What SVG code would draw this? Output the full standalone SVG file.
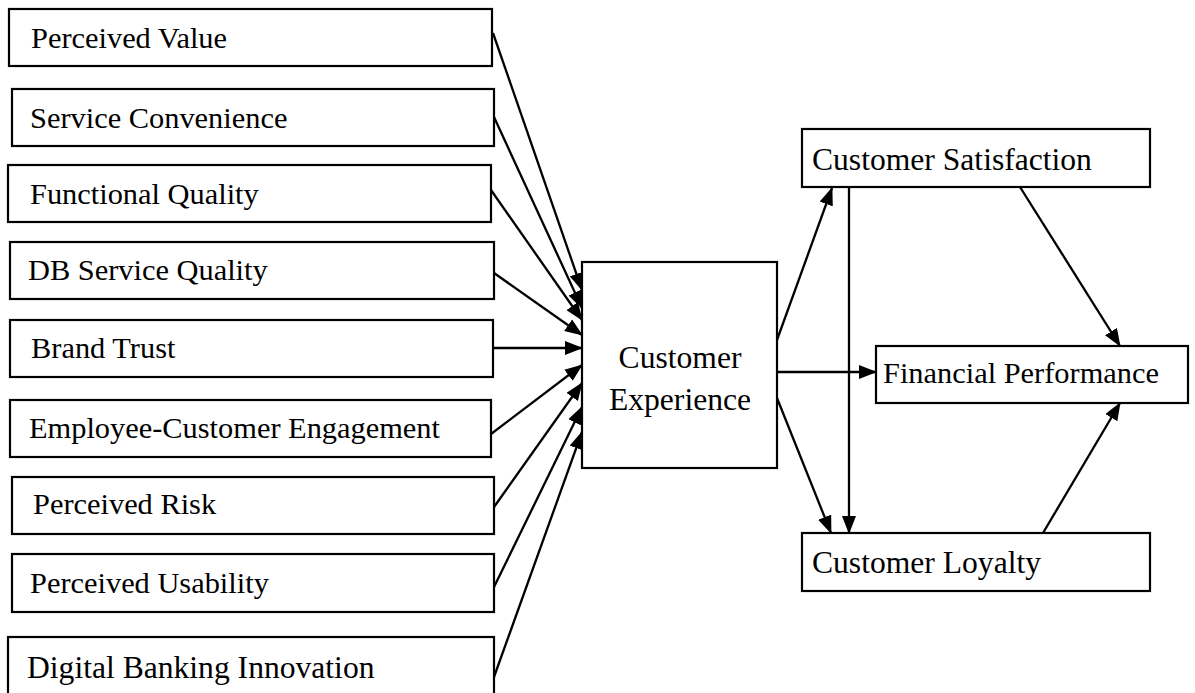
<svg xmlns="http://www.w3.org/2000/svg" width="1195" height="693" viewBox="0 0 1195 693">
<style>
.box{fill:#fff;stroke:#000;stroke-width:2.2}
.t{font-family:"Liberation Serif","Times New Roman",serif;font-size:30.4px;fill:#000}
.tr{font-family:"Liberation Serif","Times New Roman",serif;font-size:31.6px;fill:#000}
.c{stroke:#000;stroke-width:2.3;fill:none;marker-end:url(#ah)}
</style>
<defs>
<marker id="ah" markerUnits="userSpaceOnUse" markerWidth="18" markerHeight="14" refX="17" refY="7" orient="auto">
<path d="M0,0 L18,7 L0,14 z" fill="#000"/>
</marker>
</defs>
<rect width="1195" height="693" fill="#fff"/>
<g id="connectors">
<line class="c" x1="493" y1="33" x2="582" y2="290"/>
<line class="c" x1="494" y1="117" x2="582" y2="308"/>
<line class="c" x1="491" y1="190" x2="582" y2="320"/>
<line class="c" x1="494" y1="273" x2="582" y2="335"/>
<line class="c" x1="493" y1="348" x2="582" y2="348"/>
<line class="c" x1="491" y1="434" x2="582" y2="365"/>
<line class="c" x1="494" y1="507" x2="582" y2="383"/>
<line class="c" x1="494" y1="587" x2="582" y2="407"/>
<line class="c" x1="494" y1="677" x2="582" y2="432"/>
<line class="c" x1="777" y1="340" x2="832" y2="188"/>
<line class="c" x1="777" y1="372" x2="876" y2="372"/>
<line class="c" x1="777" y1="398" x2="831" y2="533"/>
<line class="c" x1="849" y1="187" x2="849" y2="533"/>
<line class="c" x1="1020" y1="187" x2="1120" y2="346"/>
<line class="c" x1="1043" y1="533" x2="1120" y2="403"/>
</g>
<g id="perceived-value"><rect class="box" x="9" y="9" width="483" height="57"/><text class="t" x="31" y="48">Perceived Value</text></g>
<g id="service-convenience"><rect class="box" x="12" y="89" width="482" height="57"/><text class="t" x="30" y="128">Service Convenience</text></g>
<g id="functional-quality"><rect class="box" x="8" y="165" width="483" height="57"/><text class="t" x="30" y="204">Functional Quality</text></g>
<g id="db-service-quality"><rect class="box" x="10" y="242" width="484" height="57"/><text class="t" x="28" y="280">DB Service Quality</text></g>
<g id="brand-trust"><rect class="box" x="10" y="320" width="483" height="57"/><text class="t" x="31" y="358">Brand Trust</text></g>
<g id="employee-customer-engagement"><rect class="box" x="10" y="400" width="481" height="57"/><text class="t" x="29" y="438">Employee-Customer Engagement</text></g>
<g id="perceived-risk"><rect class="box" x="12" y="477" width="482" height="57"/><text class="t" x="33" y="514">Perceived Risk</text></g>
<g id="perceived-usability"><rect class="box" x="12" y="554" width="482" height="58"/><text class="t" x="30" y="593">Perceived Usability</text></g>
<g id="digital-banking-innovation"><rect class="box" x="8" y="637" width="486" height="70"/><text class="tr" x="27" y="678">Digital Banking Innovation</text></g>
<g id="customer-experience"><rect class="box" x="582" y="262" width="195" height="206"/><text class="tr" x="680" y="368" text-anchor="middle">Customer</text><text class="tr" x="680" y="410" text-anchor="middle">Experience</text></g>
<g id="customer-satisfaction"><rect class="box" x="802" y="129" width="348" height="58"/><text class="tr" x="812" y="170">Customer Satisfaction</text></g>
<g id="financial-performance"><rect class="box" x="876" y="346" width="312" height="57"/><text class="t" x="883" y="383">Financial Performance</text></g>
<g id="customer-loyalty"><rect class="box" x="802" y="533" width="348" height="58"/><text class="tr" x="812" y="573">Customer Loyalty</text></g>
</svg>
